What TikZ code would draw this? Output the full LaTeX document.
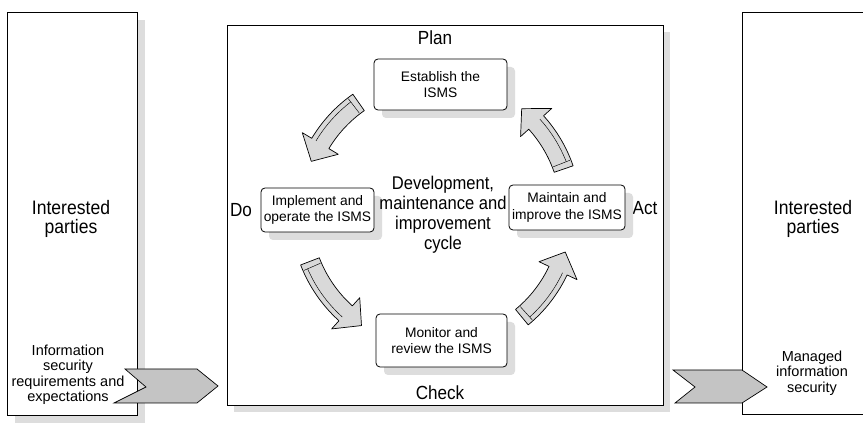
\documentclass[tikz,border=0pt]{standalone}
\usepackage{fontspec}
\setmainfont{Liberation Sans}
\newfontfamily\narrowfont[FakeStretch=0.9]{Liberation Sans}
\usetikzlibrary{calc,shadows}
\definecolor{shadowgray}{HTML}{DDDDDD}
\definecolor{arrowgray}{HTML}{D9D9D9}
\definecolor{chevgray}{HTML}{C4C4C4}
\newcommand{\cyclearrow}[2]{%
  \pgfmathsetmacro{\ahbase}{#2+8.5}%
  \pgfmathsetmacro{\ahtail}{#1-2.5}%
  \draw[blockarrow, shift={(436,213)}]
    plot[domain=#1:\ahbase, samples=14] (\x:125) -- (\ahbase:114) -- (#2:135)
    -- (\ahbase:156) -- (\ahbase:145) -- plot[domain=\ahbase:#1, samples=14] (\x:145) -- cycle;
  \draw[depthline, shift={(436,213)}]
    plot[domain=\ahtail:\ahbase, samples=14] (\x:140);
  \draw[depthline, shift={(436,213)}] (\ahtail:126) -- (\ahtail:144);
}
\begin{document}
\begin{tikzpicture}[x=1pt,y=-1pt,
  every node/.style={inner sep=0pt, outer sep=0pt},
  plainbox/.style={draw=black, line width=0.8pt, fill=white, rectangle},
  stepbox/.style={draw=black, line width=0.8pt, fill=white, rounded corners=4pt,
    align=center, font=\fontsize{13.8}{16.5}\selectfont,
    drop shadow={shadow xshift=8pt, shadow yshift=-8pt, opacity=1, fill=shadowgray}},
  bigtxt/.style={align=center, font=\narrowfont\fontsize{19.5}{19}\selectfont},
  midtxt/.style={align=center, font=\narrowfont\fontsize{18.4}{20}\selectfont},
  smalltxt/.style={align=center, font=\fontsize{14.5}{15.5}\selectfont},
  phase/.style={font=\narrowfont\fontsize{19}{20}\selectfont},
  blockarrow/.style={fill=arrowgray, draw=black, line width=0.7pt, line join=round},
  depthline/.style={draw=black, line width=0.45pt},
  chevron/.style={fill=chevgray, draw=black, line width=0.7pt, line join=miter}
]
\useasboundingbox (0,0) rectangle (863,427);

% shadows of the large boxes
\fill[shadowgray] (15,20) rectangle (145,423);
\fill[shadowgray] (234,32) rectangle (670,412);

% large boxes
\node[plainbox, minimum width=130pt, minimum height=403pt] (leftbox) at (72,213.5) {};
\node[plainbox, minimum width=436pt, minimum height=380pt] (mainbox) at (445,215) {};
\node[plainbox, minimum width=142pt, minimum height=402pt] (rightbox) at (813,213) {};

% interested parties
\node[bigtxt] (leftip) at (71,219) {Interested\\parties};
\node[bigtxt] (rightip) at (813,219) {Interested\\parties};
\node[smalltxt] (inreq) at (68,375) {Information\\security\\requirements and\\expectations};
\node[smalltxt] (outsec) at (812,373) {Managed\\information\\security};

% chevrons
\draw[chevron] (125,369) -- (197,369) -- (218,386) -- (197,403) -- (114,403) -- (146,387) -- cycle;
\draw[chevron] (673,370) -- (742,370) -- (767,387) -- (742,403) -- (675,403) -- (695,387) -- cycle;

% phase labels
\node[phase] (plan) at (435,38) {Plan};
\node[phase] (check) at (440,393) {Check};
\node[phase] (do) at (241,210) {Do};
\node[phase] (act) at (645,208) {Act};

% cycle boxes
\node[stepbox, minimum width=133pt, minimum height=51pt] (establish) at (440.5,84.5) {Establish the\\ISMS};
\node[stepbox, minimum width=113pt, minimum height=44pt] (implement) at (317.5,210) {Implement and\\operate the ISMS};
\node[stepbox, minimum width=116pt, minimum height=45pt] (maintain) at (567,207.5) {Maintain and\\improve the ISMS};
\node[stepbox, minimum width=131pt, minimum height=53pt] (monitor) at (441.5,340.5) {Monitor and\\review the ISMS};

\node[midtxt] (cycle) at (443,215) {Development,\\maintenance and\\improvement\\cycle};

% curved block arrows
\cyclearrow{235}{202.5}
\cyclearrow{159}{123.5}
\cyclearrow{50.5}{16.8}
\cyclearrow{-19}{-50.6}
\end{tikzpicture}
\end{document}
